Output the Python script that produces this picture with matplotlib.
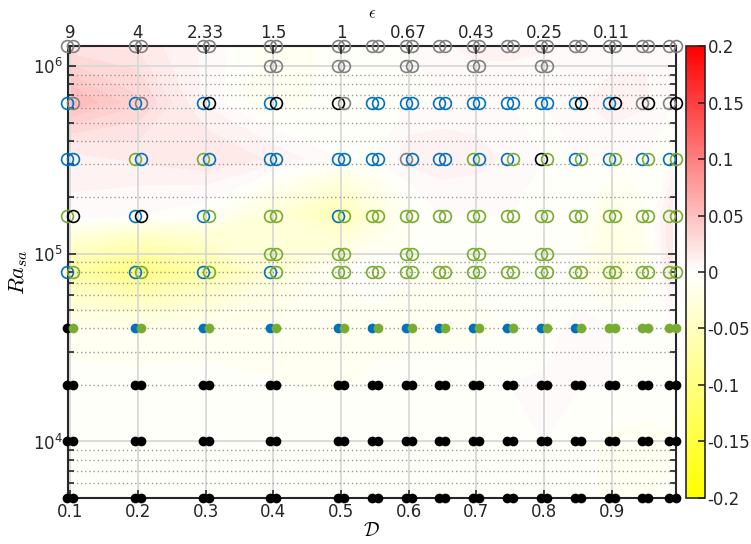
import numpy as np
import matplotlib
matplotlib.use('Agg')
import matplotlib.pyplot as plt
from matplotlib.colors import LinearSegmentedColormap, Normalize
from matplotlib.cm import ScalarMappable

plt.rcParams['mathtext.fontset'] = 'cm'
plt.rcParams['font.family'] = 'DejaVu Sans'

# D positions of the runs
D_all = [0.1, 0.2, 0.3, 0.4, 0.5, 0.55, 0.6, 0.65, 0.7, 0.75, 0.8, 0.85, 0.9, 0.95, 0.99]
D_sub = [0.4, 0.5, 0.6, 0.7, 0.8]

# epsilon labels on top axis
eps_ticks = [0.1, 0.2, 0.3, 0.4, 0.5, 0.6, 0.7, 0.8, 0.9]
eps_labels = ['9', '4', '2.33', '1.5', '1', '0.67', '0.43', '0.25', '0.11']

# open circle rows: Ra, D list, left colour codes, right colour codes
# a = gray, b = blue, g = green, k = black
open_rows = [
    (1.28e6, D_all, 'aaaaaaaaaaaaaaa', 'aaaaaaaaaaaaaaa'),
    (1e6,    D_sub, 'aaaaa',           'aaaaa'),
    (6.4e5,  D_all, 'bbbbkbbbbbbbbaa', 'aakkabbbbbbkkkk'),
    (3.2e5,  D_all, 'bggbbbabgbkbbbb', 'bbbbbbbbbgggggg'),
    (1.6e5,  D_all, 'gbbgbgggggggggg', 'kkggggggggggggg'),
    (1e5,    D_sub, 'ggggg',           'ggggg'),
    (8e4,    D_all, 'bbbbggggggggggg', 'ggggggggggggggg'),
]
# filled dot rows
filled_rows = [
    (4e4, D_all, 'kbbbbbbbbbbbggg', 'ggggggggggggggg'),
    (2e4, D_all, 'kkkkkkkkkkkkkkk', 'kkkkkkkkkkkkkkk'),
    (1e4, D_all, 'kkkkkkkkkkkkkkk', 'kkkkkkkkkkkkkkk'),
    (5e3, D_all, 'kkkkkkkkkkkkkkk', 'kkkkkkkkkkkkkkk'),
]

# background field (rows = Ra ascending, cols = D_all)
field_Ra = [5e3, 1e4, 2e4, 4e4, 8e4, 1.6e5, 3.2e5, 6.4e5, 1.28e6]
field = [
    [0, 0, 0, 0, 0, 0, 0, 0, 0, 0, 0, -0.005, -0.008, -0.008, -0.005],
    [0, 0, 0, 0, 0, 0, 0, 0, 0, 0, 0, -0.005, -0.008, -0.01, -0.008],
    [-0.004, -0.004, -0.004, -0.006, -0.008, -0.005, -0.003, -0.002, -0.001, 0, 0.001, 0.001, 0, 0, 0],
    [-0.012, -0.015, -0.012, -0.012, -0.012, -0.01, -0.01, -0.012, -0.01, -0.005, -0.004, 0.003, 0, 0, 0],
    [-0.07, -0.1, -0.07, -0.03, -0.005, 0, -0.005, -0.01, -0.005, 0, 0, -0.008, -0.03, -0.015, 0.02],
    [0.005, 0, -0.005, -0.03, -0.06, -0.03, -0.01, 0, 0, 0, 0, -0.005, -0.02, -0.01, 0.02],
    [0.01, 0.015, 0.02, 0.012, 0, 0, 0.01, 0.012, 0.01, 0.005, 0, 0, 0, 0, 0],
    [0.055, 0.035, 0.005, -0.015, 0, 0, 0, 0, 0, 0, 0, 0.005, 0.012, 0.008, 0],
    [0.02, 0.018, 0.005, -0.01, -0.005, 0, 0, 0.005, 0.01, 0.01, 0.008, 0, 0, 0.005, 0],
]

colors = {'a': (0.5, 0.5, 0.5), 'b': (0, 0.447, 0.741),
          'g': (0.466, 0.674, 0.188), 'k': (0, 0, 0)}
off_l, off_r = -0.0045, 0.0045

cmap = LinearSegmentedColormap.from_list('yw_r', [(1, 1, 0), (1, 1, 1), (1, 0, 0)])

fig = plt.figure(figsize=(7.51, 5.44), dpi=100)
ax = fig.add_axes([0.0905, 0.0846, 0.8095, 0.8308])
cax = fig.add_axes([0.9134, 0.0846, 0.0253, 0.8308])

X, Y = np.meshgrid(D_all, field_Ra)
ax.contourf(X, Y, np.array(field), levels=np.linspace(-0.2, 0.2, 61),
            cmap=cmap, vmin=-0.2, vmax=0.2, zorder=0)

for ra, ds, left, right in open_rows:
    for d, cl, cr in zip(ds, left, right):
        ax.plot(d + off_l, ra, 'o', mfc='none', mec=colors[cl], ms=8.5, mew=1.2, clip_on=False, zorder=3)
        ax.plot(d + off_r, ra, 'o', mfc='none', mec=colors[cr], ms=8.5, mew=1.2, clip_on=False, zorder=3)

for ra, ds, left, right in filled_rows:
    for d, cl, cr in zip(ds, left, right):
        ax.plot(d + off_l, ra, 'o', color=colors[cl], ms=7, mew=0, clip_on=False, zorder=3)
        ax.plot(d + off_r, ra, 'o', color=colors[cr], ms=7, mew=0, clip_on=False, zorder=3)

ax.set_yscale('log')
ax.set_xlim(0.0966, 0.995)
ax.set_ylim(5000, 1.28e6)
ax.set_xticks([0.1, 0.2, 0.3, 0.4, 0.5, 0.6, 0.7, 0.8, 0.9])
ax.set_xticklabels(['0.1', '0.2', '0.3', '0.4', '0.5', '0.6', '0.7', '0.8', '0.9'])
ax.grid(which='major', color=(0.85, 0.85, 0.85), lw=1.3, ls='-')
ax.grid(which='minor', axis='y', color=(0.6, 0.6, 0.6), lw=1.0, ls=(0, (1, 2)))
ax.tick_params(which='both', direction='in', right=True, labelsize=12,
               colors=(0.15, 0.15, 0.15), width=1.2)
ax.tick_params(which='major', length=6)
ax.tick_params(which='minor', length=4)
ax.tick_params(axis='x', which='minor', bottom=False, top=False)
for s in ax.spines.values():
    s.set_linewidth(1.5)
    s.set_color((0.15, 0.15, 0.15))

ax.set_xlabel(r'$\mathcal{D}$', fontsize=14, labelpad=0)
ax.set_ylabel(r'$Ra_{sa}$', fontsize=16, labelpad=2)

top = ax.twiny()
top.set_xlim(ax.get_xlim())
top.set_xticks(eps_ticks)
top.set_xticklabels(eps_labels)
top.tick_params(direction='in', length=6, width=1.2, labelsize=12, colors=(0.15, 0.15, 0.15), pad=3)
top.set_xlabel(r'$\epsilon$', fontsize=12, labelpad=4)
for s in top.spines.values():
    s.set_visible(False)

cb = fig.colorbar(ScalarMappable(norm=Normalize(-0.2, 0.2), cmap=cmap), cax=cax)
cb.set_ticks([-0.2, -0.15, -0.1, -0.05, 0, 0.05, 0.1, 0.15, 0.2])
cb.set_ticklabels(['-0.2', '-0.15', '-0.1', '-0.05', '0', '0.05', '0.1', '0.15', '0.2'])
cb.ax.tick_params(direction='in', length=5, width=1.2, labelsize=12, pad=2,
                  colors=(0.15, 0.15, 0.15))
cb.outline.set_linewidth(1.2)
cb.outline.set_edgecolor((0.15, 0.15, 0.15))

fig.savefig('out.png', dpi=100)
